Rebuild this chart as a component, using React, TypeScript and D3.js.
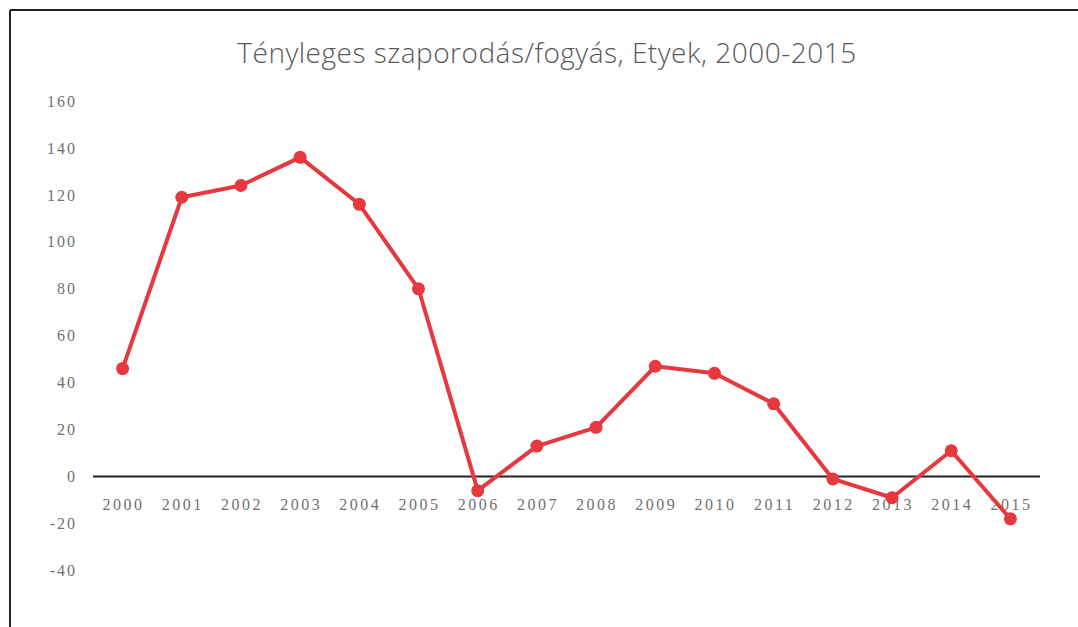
import React from "react";
import * as d3 from "d3";

const years = [
  "2000", "2001", "2002", "2003", "2004", "2005", "2006", "2007",
  "2008", "2009", "2010", "2011", "2012", "2013", "2014", "2015",
];
const growth = [46, 119, 124, 136, 116, 80, -6, 13, 21, 47, 44, 31, -1, -9, 11, -18];
const yTicks = [160, 140, 120, 100, 80, 60, 40, 20, 0, -20, -40];
const title = "Tényleges szaporodás/fogyás, Etyek, 2000-2015";

const W = 1078;
const H = 627;

const App: React.FC = () => {
  const x = d3.scaleBand<string>().domain(years).range([93, 1040]);
  const y = d3.scaleLinear().domain([-40, 160]).range([570.5, 101]);

  const line = d3
    .line<number>()
    .x((_, i) => (x(years[i]) ?? 0) + x.bandwidth() / 2)
    .y((d) => y(d));

  const lineColor = "#e5383f";
  const tickFont = "'Liberation Serif', serif";

  return (
    <svg
      width={W}
      height={H}
      style={{ position: "absolute", left: 0, top: 0, background: "#fff" }}
    >
      {/* frame */}
      <line x1={10} y1={10} x2={W} y2={10} stroke="#222" strokeWidth={2} />
      <line x1={10} y1={10} x2={10} y2={H} stroke="#222" strokeWidth={2} />

      <text
        x={547}
        y={63}
        textAnchor="middle"
        fontFamily="'Open Sans', 'Noto Sans', sans-serif"
        fontWeight={300}
        fontSize={28}
        letterSpacing={0.5}
        fill="#595959"
      >
        {title}
      </text>

      {/* y tick labels */}
      {yTicks.map((t) => (
        <text
          key={t}
          x={77}
          y={y(t)}
          dy="0.35em"
          textAnchor="end"
          fontFamily={tickFont}
          fontSize={16}
          letterSpacing={2}
          fill="#707070"
        >
          {t}
        </text>
      ))}

      {/* zero line */}
      <line
        x1={x.range()[0]}
        x2={x.range()[1]}
        y1={y(0)}
        y2={y(0)}
        stroke="#222"
        strokeWidth={2}
      />

      {/* x labels */}
      {years.map((yr) => (
        <text
          key={yr}
          x={(x(yr) ?? 0) + x.bandwidth() / 2 + 1}
          y={y(0) + 28}
          dy="0.35em"
          textAnchor="middle"
          fontFamily={tickFont}
          fontSize={16}
          letterSpacing={2.5}
          fill="#707070"
        >
          {yr}
        </text>
      ))}

      <path
        d={line(growth) ?? ""}
        fill="none"
        stroke={lineColor}
        strokeWidth={4}
        strokeLinejoin="round"
      />
      {growth.map((v, i) => (
        <circle
          key={years[i]}
          cx={(x(years[i]) ?? 0) + x.bandwidth() / 2}
          cy={y(v)}
          r={6.5}
          fill={lineColor}
        />
      ))}
    </svg>
  );
};

export default App;
